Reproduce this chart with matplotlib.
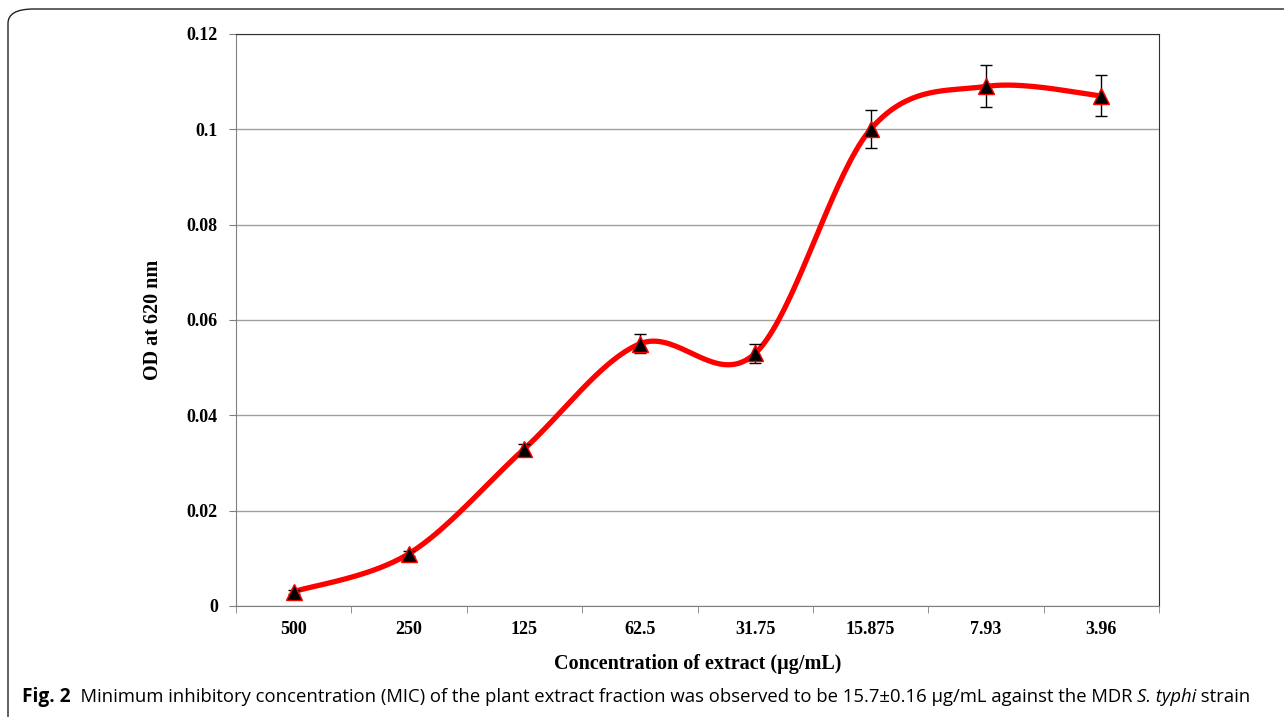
import numpy as np
import matplotlib.pyplot as plt
from matplotlib.patches import FancyBboxPatch

categories = ["500", "250", "125", "62.5", "31.75", "15.875", "7.93", "3.96"]
od_values = [0.003, 0.011, 0.033, 0.055, 0.053, 0.100, 0.109, 0.107]
od_errors = [0.0004, 0.0005, 0.001, 0.002, 0.002, 0.004, 0.0044, 0.0043]


def smooth_curve(y, n=40):
    # Catmull-Rom style smoothing, similar to a spreadsheet "smoothed line"
    y = np.asarray(y, dtype=float)
    x = np.arange(len(y), dtype=float)
    px = np.concatenate([[x[0]], x, [x[-1]]])
    py = np.concatenate([[y[0]], y, [y[-1]]])
    xs, ys = [], []
    for i in range(1, len(px) - 2):
        p0 = np.array([px[i], py[i]])
        p3 = np.array([px[i + 1], py[i + 1]])
        c1 = p0 + (np.array([px[i + 1], py[i + 1]]) - np.array([px[i - 1], py[i - 1]])) / 6
        c2 = p3 - (np.array([px[i + 2], py[i + 2]]) - np.array([px[i], py[i]])) / 6
        t = np.linspace(0, 1, n)[:, None]
        b = (1 - t) ** 3 * p0 + 3 * (1 - t) ** 2 * t * c1 + 3 * (1 - t) * t ** 2 * c2 + t ** 3 * p3
        xs.extend(b[:, 0])
        ys.extend(b[:, 1])
    return np.array(xs), np.array(ys)


fig = plt.figure(figsize=(12.84, 7.17), dpi=100)

# outer rounded frame of the figure panel
frame = FancyBboxPatch((8 / 1284, -0.05), 1.2, 1.05 - 9 / 717,
                       boxstyle="round,pad=0,rounding_size=0.02",
                       transform=fig.transFigure, fill=False,
                       edgecolor="#222222", linewidth=1.0)
fig.patches.append(frame)

ax = fig.add_axes([236 / 1284, 1 - 606 / 717, (1159 - 236) / 1284, (606 - 34) / 717])

x = np.arange(len(categories))
cx, cy = smooth_curve(od_values)
ax.plot(cx, cy, color="red", linewidth=3.8, solid_capstyle="round", zorder=3)
ax.errorbar(x, od_values, yerr=od_errors, fmt="none", ecolor="black",
            elinewidth=1.0, capsize=4, capthick=1.0, zorder=4)
ax.plot(x, od_values, linestyle="none", marker="^", markersize=11,
        markerfacecolor="black", markeredgecolor="red", markeredgewidth=1.0, zorder=5)

ax.set_xlim(-0.5, len(categories) - 0.5)
ax.set_ylim(0, 0.12)
ax.set_yticks(np.arange(0, 0.121, 0.02))
ax.set_yticklabels(["0", "0.02", "0.04", "0.06", "0.08", "0.1", "0.12"])
ax.yaxis.grid(True, color="#a0a0a0", linewidth=1.0)
ax.set_axisbelow(True)

ax.set_xticks(x)
ax.set_xticklabels(categories)
ax.set_xticks(np.arange(-0.5, len(categories), 1.0), minor=True)
ax.tick_params(axis="x", which="major", length=0, pad=11)
ax.tick_params(axis="x", which="minor", length=5, color="#808080", direction="out")
ax.tick_params(axis="y", length=5, color="#808080", direction="out", pad=8)

for lab in ax.get_xticklabels() + ax.get_yticklabels():
    lab.set_fontfamily("Liberation Serif")
    lab.set_fontweight("bold")
    lab.set_fontsize(13)

ax.spines["left"].set_color("#808080")
ax.spines["bottom"].set_color("#808080")
ax.spines["top"].set_color("#303030")
ax.spines["right"].set_color("#303030")

ax.set_ylabel("OD at 620 nm", fontfamily="Liberation Serif", fontweight="bold",
              fontsize=14.5, labelpad=17)
ax.set_xlabel("Concentration of extract (\u00b5g/mL)", fontfamily="Liberation Serif",
              fontweight="bold", fontsize=14.5, labelpad=11)

# caption, built from pieces so that only "S. typhi" is italic
cap_y = 1 - 697 / 717
pieces = [
    ("Fig. 2", "bold", "normal", 13.8),
    ("  Minimum inhibitory concentration (MIC) of the plant extract fraction was observed to be "
     "15.7\u00b10.16 \u00b5g/mL against the MDR ", "normal", "normal", 13.3),
    ("S. typhi", "normal", "italic", 13.3),
    (" strain", "normal", "normal", 13.3),
]
fig.canvas.draw()
renderer = fig.canvas.get_renderer()
xpos = 22
for txt, weight, style, size in pieces:
    t = fig.text(xpos / 1284, cap_y, txt, fontfamily="Open Sans", fontweight=weight,
                 fontstyle=style, fontsize=size, va="center", ha="left")
    xpos += t.get_window_extent(renderer).width

fig.savefig("out.png", dpi=100)
